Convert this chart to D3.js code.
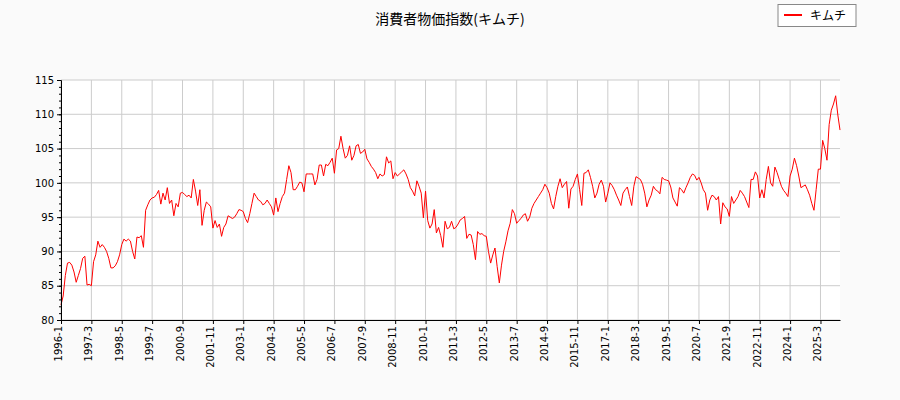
<!DOCTYPE html>
<html><head><meta charset="utf-8">
<script src="https://cdn.jsdelivr.net/npm/d3@7"></script>
<style>body{margin:0;background:#fafafa;font-family:"DejaVu Sans",sans-serif}</style>
</head><body><svg id="c" width="900" height="400"></svg>
<script>
const startYear = 1996;
const v1996=[82.2,83.5,86.5,88.3,88.4,88,87,85.5,86.5,87.5,89,89.3];
const v1997=[85.1,85.2,85,88.5,89.5,91.5,90.6,91,90.6,90,89,87.6];
const v1998=[87.6,87.9,88.5,89.5,91,91.8,91.5,91.8,91.5,90,88.9,92.1];
const v1999=[92,92.3,90.6,96,96.8,97.5,97.8,97.9,98.3,98.9,96.9,98.5];
const v2000=[97.5,99.3,97,97.5,95.2,97,96.5,98.5,98.6,98.3,98,98.2];
const v2001=[97.8,100.5,98.8,96.7,99,93.8,96,97.2,96.9,96.5,93.4,94.5];
const v2002=[93.5,94,92.2,93.5,94,95.2,95,94.8,95,95.5,96.1,96];
const v2003=[95.8,94.8,94.2,95.5,97,98.5,98,97.5,97.3,96.8,97,97.5];
const v2004=[97,96.5,95.3,97.8,95.8,97,98,98.5,100.5,102.5,101.5,99];
const v2005=[99,99.5,100.1,100,98.7,101.3,101.3,101.3,101.3,99.7,100.5,102.6];
const v2006=[102.6,101,102.7,102.5,103,103.6,101.4,104.8,105,106.8,105,103.6];
const v2007=[104,105.4,103.3,104,105.4,105.6,104.3,104.5,104.9,103.5,103,102.4];
const v2008=[102,101.5,100.6,101.3,101,101.2,103.8,102.9,103.2,100.6,101.5,101];
const v2009=[101.3,101.6,101.9,101.3,100.5,99.3,98.8,98.1,100.3,99.5,98.5,94.9];
const v2010=[98.8,94.5,93.4,94,96.1,92.7,93.5,92.3,90.6,94.4,93.3,93.5];
const v2011=[94.4,93.3,93.5,94,94.6,94.8,95.1,91.9,92.5,92.4,91,88.8];
const v2012=[92.9,92.5,92.6,92.3,92.2,90,88.3,89.5,90.5,87.8,85.4,88];
const v2013=[90,91.4,93,94.1,96.1,95.5,94.1,94.5,94.8,95.3,95.5,94.4];
const v2014=[95,96.3,97,97.5,98,98.5,99,99.8,99.3,98.5,97,96.2];
const v2015=[98,99.5,100.6,99.3,99.8,100.2,96.3,99.1,99.5,100.5,101.3,99];
const v2016=[96.7,101.4,101.5,101.9,100.8,99.5,97.8,98.5,99.8,100.4,99.5,97.2];
const v2017=[98.5,100,99.6,99,98.2,97.5,96.7,98.5,99,99.4,98,96.7];
const v2018=[99.5,100.9,100.7,100.5,99.8,98.5,96.5,97.5,98.2,99.5,99,98.8];
const v2019=[98.4,100.8,100.5,100.4,100.3,99.4,97.8,97.2,96.6,99.3,99,98.5];
const v2020=[99.3,100,100.8,101.3,101.1,100.4,100.8,100,99,98.5,96,97.5];
const v2021=[98.2,98,97.5,98,94,97.1,96.5,96.2,95.1,98,97,97.5];
const v2022=[98,98.9,98.5,98,97.2,96.4,100.5,100.5,101.6,101,97.8,99];
const v2023=[97.8,100.5,102.4,100,99.5,102.3,101.5,100.5,99.5,98.9,98.5,98];
const v2024=[101,102,103.6,102.5,101,99.3,99.5,99.7,99,98.2,97,96];
const v2025=[99,102,102,106.2,105,103.3,108.5,110.6,111.5,112.7,109.9,107.7];
const yTicks=[80,85,90,95,100,105,110,115];
const title="消費者物価指数(キムチ)";
const seriesName="キムチ";

const values=[].concat(v1996,v1997,v1998,v1999,v2000,v2001,v2002,v2003,v2004,v2005,v2006,v2007,v2008,v2009,v2010,v2011,v2012,v2013,v2014,v2015,v2016,v2017,v2018,v2019,v2020,v2021,v2022,v2023,v2024,v2025);
const label=i=>(startYear+Math.floor(i/12))+"-"+(i%12+1);
const L=61,R=840,T=80,B=320;
const svg=d3.select("#c");
const x=d3.scaleLinear().domain([0,values.length-1]).range([L,R]);
const y=d3.scaleLinear().domain([80,115]).range([B,T]);
svg.append("rect").attr("x",L).attr("y",T).attr("width",R-L).attr("height",B-T).attr("fill","#fff");
const xt=d3.range(0,values.length,14);
const g=svg.append("g");
g.selectAll(".vx").data(xt).join("line").attr("x1",d=>x(d)).attr("x2",d=>x(d)).attr("y1",T).attr("y2",B).attr("stroke","#ccc");
g.selectAll(".hy").data(yTicks).join("line").attr("x1",L).attr("x2",R).attr("y1",d=>y(d)).attr("y2",d=>y(d)).attr("stroke","#ccc");
svg.append("path").datum(values).attr("fill","none").attr("stroke","#f00").attr("stroke-width",1)
 .attr("d",d3.line().x((d,i)=>x(i)).y(d=>y(d)));
const ya=svg.append("g").attr("transform",`translate(${L},0)`).call(d3.axisLeft(y).tickValues(yTicks).tickSize(4).tickSizeOuter(0));
svg.append("g").attr("transform",`translate(${L},0)`).call(d3.axisLeft(y).tickValues(d3.range(80,116)).tickSize(2).tickFormat("").tickSizeOuter(0));
const xa=svg.append("g").attr("transform",`translate(0,${B})`).call(d3.axisBottom(x).tickValues(xt).tickFormat(label).tickSize(4).tickSizeOuter(0));
xa.selectAll("text").attr("transform","rotate(-90)").attr("text-anchor","end").attr("x",-6).attr("y",-3).attr("dy","0.35em");
[ya,xa].forEach(a=>{a.selectAll("text").attr("font-size",10).attr("font-family","DejaVu Sans").attr("fill","#000");a.selectAll("path,line").attr("stroke","#000");});
svg.append("text").attr("x",450).attr("y",24).attr("text-anchor","middle").attr("font-size",14).attr("font-family","Noto Sans CJK JP").text(title);
svg.append("rect").attr("x",778).attr("y",4.5).attr("width",78).attr("height",22).attr("fill","#fff").attr("stroke","#888");
svg.append("line").attr("x1",784).attr("x2",802).attr("y1",15).attr("y2",15).attr("stroke","#f00").attr("stroke-width",2);
svg.append("text").attr("x",810).attr("y",20).attr("font-size",12).attr("font-family","Noto Sans CJK JP").text(seriesName);
</script></body></html>
